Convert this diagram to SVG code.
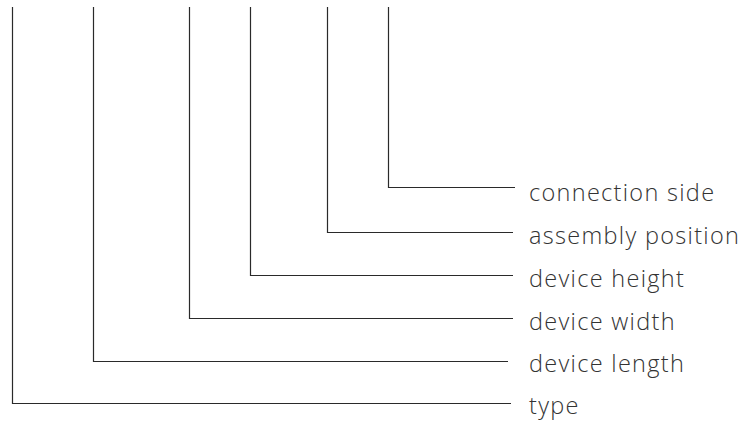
<svg xmlns="http://www.w3.org/2000/svg" width="745" height="421" viewBox="0 0 745 421">
<style>
.c{fill:none;stroke:#2a2a2a;stroke-width:1.2}
.t{font-family:"Open Sans","Noto Sans",sans-serif;font-size:23.5px;font-weight:300;letter-spacing:1.3px;fill:#333}
</style>
<rect width="745" height="421" fill="#fff"/>
<g id="connectors">
<polyline class="c" points="388.5,7 388.5,187.5 515,187.5"/>
<polyline class="c" points="327.5,7 327.5,232.5 513,232.5"/>
<polyline class="c" points="250.5,7 250.5,275.5 513,275.5"/>
<polyline class="c" points="189.5,7 189.5,318.5 513,318.5"/>
<polyline class="c" points="93.5,7 93.5,361.5 508,361.5"/>
<polyline class="c" points="12.5,7 12.5,403.5 511,403.5"/>
</g>
<g id="n-connection-side"><text class="t" x="529" y="200.5">connection side</text></g>
<g id="n-assembly-position"><text class="t" x="529" y="244">assembly position</text></g>
<g id="n-device-height"><text class="t" x="529" y="287">device height</text></g>
<g id="n-device-width"><text class="t" x="529" y="329.5">device width</text></g>
<g id="n-device-length"><text class="t" x="529" y="371.5">device length</text></g>
<g id="n-type"><text class="t" x="529" y="413.5">type</text></g>
</svg>
